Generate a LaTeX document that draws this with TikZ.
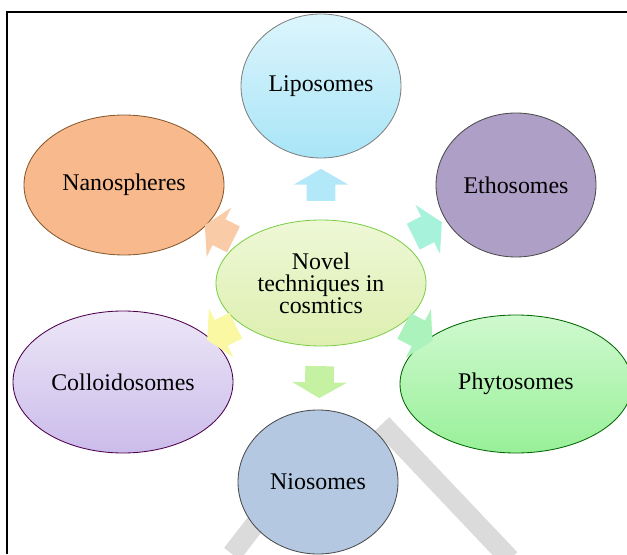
\documentclass[tikz,border=0pt]{standalone}
\usepackage{fontspec}
\setmainfont{Liberation Serif}
\usetikzlibrary{shapes.geometric, shapes.arrows}

\definecolor{lipotop}{HTML}{DCF5FC}
\definecolor{lipobot}{HTML}{A9E5F7}
\definecolor{nanofill}{HTML}{F8BA8C}
\definecolor{ethofill}{HTML}{AE9FC6}
\definecolor{novtop}{HTML}{EEF8D6}
\definecolor{novbot}{HTML}{DDEFB0}
\definecolor{colltop}{HTML}{ECE6F7}
\definecolor{collbot}{HTML}{CBBCEA}
\definecolor{phytop}{HTML}{CFF9CF}
\definecolor{phybot}{HTML}{98F098}
\definecolor{niofill}{HTML}{B4C8E2}
\definecolor{arrblue}{HTML}{B2E8F8}
\definecolor{arrteal}{HTML}{A6F2DA}
\definecolor{arrgreen}{HTML}{ACF2BC}
\definecolor{arrlime}{HTML}{C4F2A2}
\definecolor{arryellow}{HTML}{FAF8A2}
\definecolor{arrorange}{HTML}{F9CBA6}

\begin{document}
\begin{tikzpicture}[text centered, font=\fontsize{17}{15.6}\selectfont]
    \tikzstyle{every node} = [ellipse, draw, line width=0.6pt, inner sep=0pt]
    \tikzstyle{boxarrow} = [single arrow, draw=none, sloped, allow upside down,
        inner xsep=0pt, inner ysep=0.35cm, minimum height=0.8cm,
        single arrow head extend=0.325cm, single arrow tip angle=120]

    \useasboundingbox (0, 0) rectangle (15.675, 13.85);

    % watermark strokes behind the ellipses
    \draw [line width=0.5cm, color=black!14] (5.8, 0) -- (7.5, 2.2);
    \draw [line width=0.5cm, color=black!14] (9.55, 3.25) -- (12.75, -0.125);

    % frame
    \draw [line width=0.8pt] (0.175, 0) -- (0.175, 13.55) -- (15.675, 13.55);

    \node (a) at (8.025, 6.775) [minimum width=5.25cm, minimum height=3.15cm,
        align=center, top color=novtop, bottom color=novbot, draw=green!45!olive!70]
        {Novel \\ techniques in \\ cosmtics};

    \node (b) at (8.025, 11.7) [minimum width=4cm, minimum height=3.6cm,
        top color=lipotop, bottom color=lipobot, draw=black!50] {Liposomes};
    \node (c) at (12.9, 9.225) [minimum width=4cm, minimum height=3.6cm,
        fill=ethofill, draw=black!70] {Ethosomes};
    \node (d) at (12.9, 4.25) [minimum width=5.8cm, minimum height=3.45cm,
        top color=phytop, bottom color=phybot, draw=green!40!black] {Phytosomes};
    \node (e) at (7.95, 1.8) [minimum width=4cm, minimum height=3.6cm,
        fill=niofill, draw=black!70] {Niosomes};
    \node (f) at (3.075, 4.3) [minimum width=5.5cm, minimum height=3.55cm,
        top color=colltop, bottom color=collbot, draw=violet!60!black] {Colloidosomes};
    \node (g) at (3.1, 9.225) [minimum width=5cm, minimum height=3.5cm,
        fill=nanofill, draw=brown!70!black] {Nanospheres};

    \path (a) -- node [boxarrow, fill=arrblue] {} (b);
    \path (a) -- node [boxarrow, fill=arrteal] {} (c);
    \path (a) -- node [boxarrow, fill=arrgreen] {} (d);
    \path (a) -- node [boxarrow, fill=arrlime] {} (e);
    \path (a) -- node [boxarrow, fill=arryellow] {} (f);
    \path (a) -- node [boxarrow, fill=arrorange] {} (g);
\end{tikzpicture}
\end{document}
